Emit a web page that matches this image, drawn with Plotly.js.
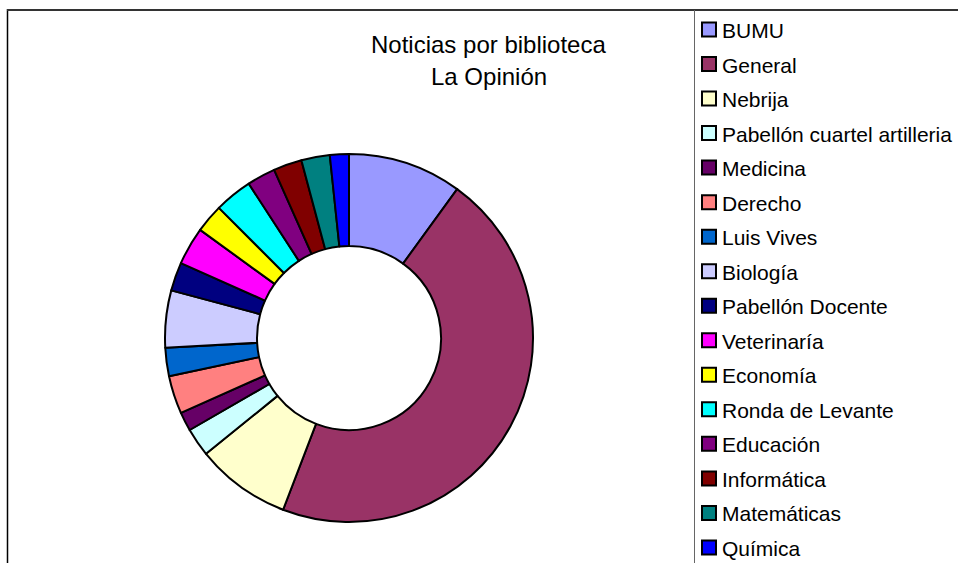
<!DOCTYPE html>
<html>
<head>
<meta charset="utf-8">
<script src="https://cdn.plot.ly/plotly-3.0.1.min.js"></script>
<style>
  html, body { margin: 0; padding: 0; background: #ffffff; }
  #chart { width: 958px; height: 563px; }
</style>
</head>
<body>
<div id="chart"></div>
<script>
// Data
const libraries = [
  "BUMU", "General", "Nebrija", "Pabellón cuartel artilleria", "Medicina",
  "Derecho", "Luis Vives", "Biología", "Pabellón Docente", "Veterinaría",
  "Economía", "Ronda de Levante", "Educación", "Informática", "Matemáticas", "Química"
];
const newsCounts = [12, 55, 10, 3, 2, 4, 3, 6, 3, 4, 3, 4, 3, 3, 3, 2];
const sliceColors = [
  "#9999FF", "#993366", "#FFFFCC", "#CCFFFF", "#660066",
  "#FF8080", "#0066CC", "#CCCCFF", "#000080", "#FF00FF",
  "#FFFF00", "#00FFFF", "#800080", "#800000", "#008080", "#0000FF"
];
const titleLines = ["Noticias por biblioteca", "La Opinión"];

const W = 958, H = 563;
const px = v => v / W;
const py = v => 1 - v / H;
const FONT = "Liberation Sans, Arial, sans-serif";

const trace = {
  type: "pie",
  labels: libraries,
  values: newsCounts,
  hole: 0.5,
  sort: false,
  direction: "clockwise",
  rotation: 0,
  textinfo: "none",
  hoverinfo: "label+value+percent",
  showlegend: false,
  marker: { colors: sliceColors, line: { color: "#000000", width: 2 } },
  domain: { x: [px(349 - 184), px(349 + 184)], y: [py(338 + 184), py(338 - 184)] }
};

// Legend drawn as shapes + annotations (matches the boxed Excel-style legend)
const rowTop = 29.5, rowStep = 34.53;
const legendShapes = [];
const legendTexts = [];
libraries.forEach((name, i) => {
  const c = rowTop + i * rowStep;
  legendShapes.push({
    type: "rect", xref: "paper", yref: "paper",
    x0: px(702), x1: px(716), y0: py(c + 7), y1: py(c - 7),
    fillcolor: sliceColors[i], line: { color: "#000000", width: 2 }
  });
  legendTexts.push({
    text: name, xref: "paper", yref: "paper",
    x: px(720), y: py(c + 1), xanchor: "left", yanchor: "middle",
    showarrow: false, font: { family: FONT, size: 21, color: "#000000" }
  });
});

const layout = {
  width: W, height: H,
  margin: { l: 0, r: 0, t: 0, b: 0 },
  paper_bgcolor: "#ffffff",
  plot_bgcolor: "#ffffff",
  showlegend: false,
  font: { family: FONT, color: "#000000" },
  annotations: [
    { text: titleLines[0], xref: "paper", yref: "paper", x: px(488.5), y: py(44.5), xanchor: "center", yanchor: "middle", showarrow: false, font: { family: FONT, size: 24, color: "#000000" } },
    { text: titleLines[1], xref: "paper", yref: "paper", x: px(488.5), y: py(77), xanchor: "center", yanchor: "middle", showarrow: false, font: { family: FONT, size: 24, color: "#000000" } }
  ].concat(legendTexts),
  shapes: [
    { type: "line", xref: "paper", yref: "paper", x0: px(7.5), x1: px(7.5), y0: py(9), y1: py(563), line: { color: "#000000", width: 1.5 } },
    { type: "line", xref: "paper", yref: "paper", x0: px(7), x1: px(958), y0: py(10), y1: py(10), line: { color: "#333333", width: 2 } },
    { type: "line", xref: "paper", yref: "paper", x0: px(694.5), x1: px(694.5), y0: py(10), y1: py(563), line: { color: "#666666", width: 1 } }
  ].concat(legendShapes)
};

Plotly.newPlot("chart", [trace], layout, { displayModeBar: false, staticPlot: true });
</script>
</body>
</html>
